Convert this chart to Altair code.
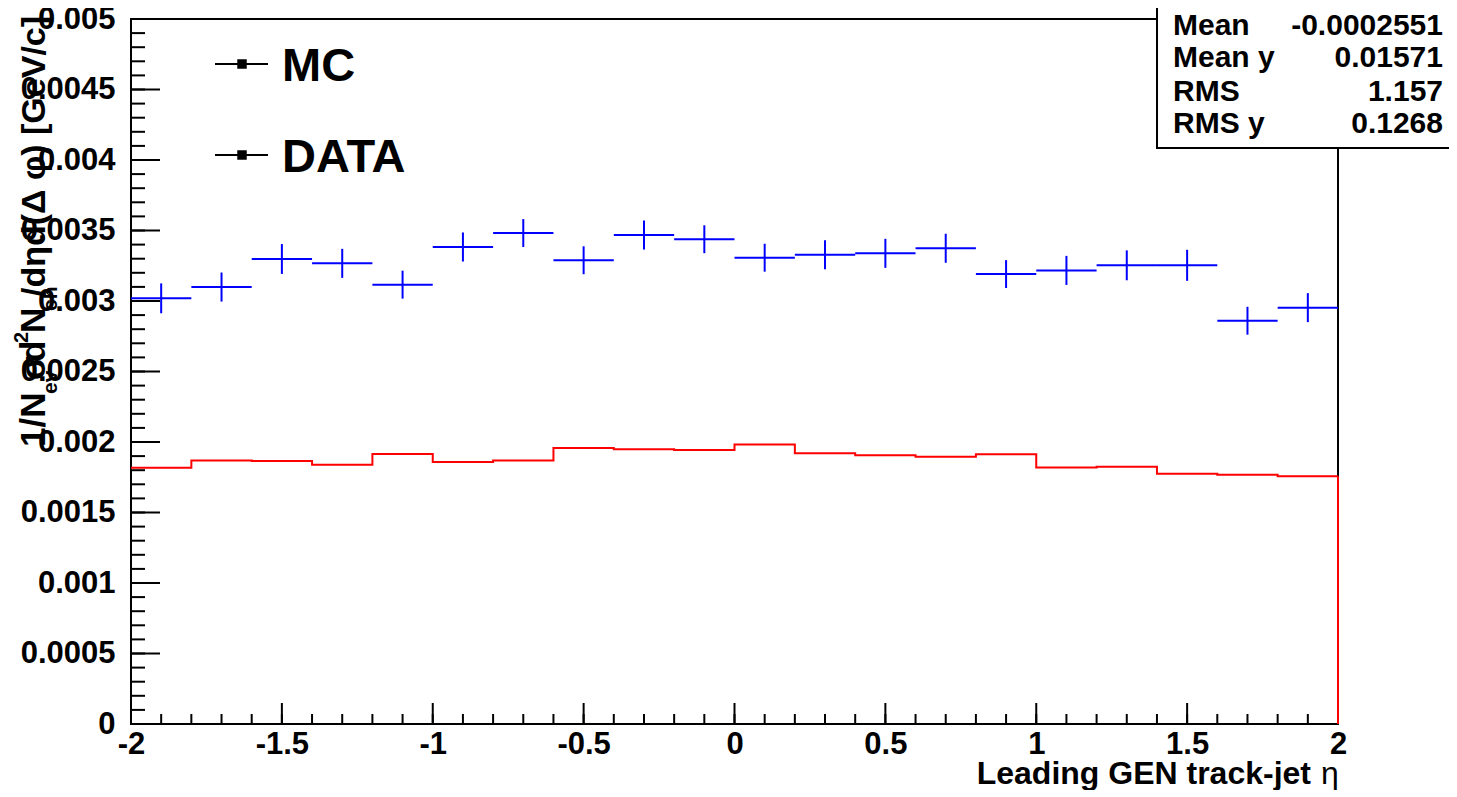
import altair as alt
import pandas as pd

# ---------------- data ----------------
bin_edges = [-2.0, -1.8, -1.6, -1.4, -1.2, -1.0, -0.8, -0.6, -0.4, -0.2, 0.0,
             0.2, 0.4, 0.6, 0.8, 1.0, 1.2, 1.4, 1.6, 1.8, 2.0]
bin_centers = [-1.9, -1.7, -1.5, -1.3, -1.1, -0.9, -0.7, -0.5, -0.3, -0.1,
               0.1, 0.3, 0.5, 0.7, 0.9, 1.1, 1.3, 1.5, 1.7, 1.9]
data_vals = [0.003019, 0.003099, 0.003298, 0.003267, 0.003116, 0.003383, 0.003482,
             0.003289, 0.003468, 0.003438, 0.003307, 0.003328, 0.003338, 0.003374,
             0.003191, 0.003217, 0.003253, 0.003253, 0.002860, 0.002953]
data_errs = [0.000106, 0.000103, 0.000106, 0.000103, 0.000099, 0.000103, 0.000099,
             0.000099, 0.000103, 0.000099, 0.000099, 0.000103, 0.000103, 0.000103,
             0.000099, 0.000103, 0.000106, 0.000110, 0.000099, 0.000103]
mc_vals = [0.001818, 0.001868, 0.001865, 0.001839, 0.001915, 0.001858, 0.001868,
           0.001957, 0.001948, 0.001943, 0.001983, 0.001920, 0.001906, 0.001896,
           0.001913, 0.001820, 0.001825, 0.001775, 0.001768, 0.001757]

x_tick_values = [-2, -1.5, -1, -0.5, 0, 0.5, 1, 1.5, 2]
y_tick_values = [0, 0.0005, 0.001, 0.0015, 0.002, 0.0025, 0.003, 0.0035, 0.004, 0.0045, 0.005]
x_minor = [round(-2 + 0.1 * i, 2) for i in range(41)]
y_minor = [round(0.0001 * i, 5) for i in range(51)]

legend_labels = ["MC", "DATA"]
stats_names = ["Mean", "Mean y", "RMS", "RMS y"]
stats_values = ["-0.0002551", "0.01571", "1.157", "0.1268"]

x_title = "Leading GEN track-jet"
x_title_sym = "\u03b7"

# ---------------- layout ----------------
W, H = 1207, 705
FONT = "Liberation Sans"
TICKFS = 31

xscale = alt.Scale(domain=[-2, 2], nice=False, zero=False)
yscale = alt.Scale(domain=[0, 0.005], nice=False, zero=False)

xaxis = alt.Axis(values=x_tick_values, labelExpr="'' + datum.value", ticks=False, domain=False,
                 grid=False, title=None, labelFont=FONT, labelFontWeight="bold", labelFontSize=TICKFS,
                 labelColor="black", labelPadding=5, labelFlush=False, labelOverlap=False)
yaxis = alt.Axis(values=y_tick_values, labelExpr="'' + datum.value", ticks=False, domain=False,
                 grid=False, title=None, labelFont=FONT, labelFontWeight="bold", labelFontSize=TICKFS,
                 labelColor="black", labelPadding=16, labelFlush=False, labelOverlap=False,
                 labelBaseline="middle")

one = pd.DataFrame({"a": [0]})

df = pd.DataFrame({
    "c": bin_centers,
    "lo": bin_edges[:-1],
    "hi": bin_edges[1:],
    "v": data_vals,
    "e": data_errs,
})
df["vlo"] = df["v"] - df["e"]
df["vhi"] = df["v"] + df["e"]

step = pd.DataFrame({"x": bin_edges, "y": mc_vals + [mc_vals[-1]]})
drop = pd.DataFrame({"x": [2.0], "y": [mc_vals[-1]], "y0": [0.0]})

# frame
frame = alt.Chart(one).mark_rect(fill=None, stroke="black", strokeWidth=2).encode(
    x=alt.value(0), x2=alt.value(W), y=alt.value(0), y2=alt.value(H))

# ticks (inside)
yt_major = alt.Chart(pd.DataFrame({"t": y_tick_values})).mark_rule(color="black", strokeWidth=2).encode(
    y=alt.Y("t:Q", scale=yscale, axis=yaxis), x=alt.value(0), x2=alt.value(29))
yt_minor = alt.Chart(pd.DataFrame({"t": y_minor})).mark_rule(color="black", strokeWidth=2).encode(
    y=alt.Y("t:Q", scale=yscale, axis=yaxis), x=alt.value(0), x2=alt.value(14))
xt_major = alt.Chart(pd.DataFrame({"t": x_tick_values})).mark_rule(color="black", strokeWidth=2).encode(
    x=alt.X("t:Q", scale=xscale, axis=xaxis), y=alt.value(H), y2=alt.value(H - 21))
xt_minor = alt.Chart(pd.DataFrame({"t": x_minor})).mark_rule(color="black", strokeWidth=2).encode(
    x=alt.X("t:Q", scale=xscale, axis=xaxis), y=alt.value(H), y2=alt.value(H - 10))

# MC histogram (red step)
mc_line = alt.Chart(step).mark_line(color="#ff0000", strokeWidth=2, interpolate="step-after").encode(
    x=alt.X("x:Q", scale=xscale, axis=xaxis), y=alt.Y("y:Q", scale=yscale, axis=yaxis))
mc_drop = alt.Chart(drop).mark_rule(color="#ff0000", strokeWidth=2).encode(
    x=alt.X("x:Q", scale=xscale, axis=xaxis), y=alt.Y("y:Q", scale=yscale, axis=yaxis), y2="y0:Q")

# DATA points (blue crosses)
d_h = alt.Chart(df).mark_rule(color="#0000ff", strokeWidth=2).encode(
    x=alt.X("lo:Q", scale=xscale, axis=xaxis), x2="hi:Q", y=alt.Y("v:Q", scale=yscale, axis=yaxis))
d_v = alt.Chart(df).mark_rule(color="#0000ff", strokeWidth=2).encode(
    x=alt.X("c:Q", scale=xscale, axis=xaxis), y=alt.Y("vlo:Q", scale=yscale, axis=yaxis), y2="vhi:Q")

layers = [frame, yt_major, yt_minor, xt_major, xt_minor, mc_line, mc_drop, d_h, d_v]

# legend
leg_y = [45, 136]
for lab, ly in zip(legend_labels, leg_y):
    layers.append(alt.Chart(one).mark_rule(color="black", strokeWidth=2).encode(
        x=alt.value(84), x2=alt.value(137), y=alt.value(ly)))
    layers.append(alt.Chart(one).mark_square(color="black", size=90, opacity=1).encode(
        x=alt.value(111), y=alt.value(ly)))
    layers.append(alt.Chart(one).mark_text(font=FONT, fontWeight="bold", fontSize=47, align="left",
                                           baseline="middle", color="black").encode(
        x=alt.value(151), y=alt.value(ly + 3), text=alt.value(lab)))

# stats box
layers.append(alt.Chart(one).mark_rect(fill="white", stroke="black", strokeWidth=2).encode(
    x=alt.value(1026), x2=alt.value(1500), y=alt.value(-40), y2=alt.value(129)))
stat_y = [7, 39, 73, 105]
for nm, val, sy in zip(stats_names, stats_values, stat_y):
    layers.append(alt.Chart(one).mark_text(font=FONT, fontWeight="bold", fontSize=30, align="left",
                                           baseline="middle", color="black").encode(
        x=alt.value(1042), y=alt.value(sy), text=alt.value(nm)))
    layers.append(alt.Chart(one).mark_text(font=FONT, fontWeight="bold", fontSize=30, align="right",
                                           baseline="middle", color="black").encode(
        x=alt.value(1312), y=alt.value(sy), text=alt.value(val)))

# x title
layers.append(alt.Chart(one).mark_text(font=FONT, fontWeight="bold", fontSize=32, align="right",
                                       baseline="alphabetic", color="black").encode(
    x=alt.value(1180), y=alt.value(765), text=alt.value(x_title)))
layers.append(alt.Chart(one).mark_text(font=FONT, fontWeight="normal", fontSize=32, align="left",
                                       baseline="alphabetic", color="black").encode(
    x=alt.value(1190), y=alt.value(765), text=alt.value(x_title_sym)))

# y title (rotated, built from segments for sub/superscripts)
ytitle_segments = [
    ("1/N", 428, -86, 35),
    ("ev", 375, -74, 21),
    ("\u03c3", 361, -86, 35),
    ("d", 343, -86, 35),
    ("2", 324, -103, 20),
    ("N", 314, -86, 35),
    ("ch", 292, -74, 21),
    ("/d\u03b7d(\u0394 \u03c6) [GeV/c]", 278, -86, 34),
]
for txt, yy, xx, fs in ytitle_segments:
    layers.append(alt.Chart(one).mark_text(font=FONT, fontWeight="bold", fontSize=fs, align="left",
                                           baseline="alphabetic", angle=270, color="black").encode(
        x=alt.value(xx), y=alt.value(yy), text=alt.value(txt)))

chart = alt.layer(*layers).properties(
    width=W, height=H,
    autosize=alt.AutoSizeParams(type="none"),
    padding={"left": 123, "top": 11, "right": 111, "bottom": 66},
    background="white",
).configure_view(stroke=None)

chart.save("out.html", embed_options={"renderer": "svg", "actions": False})
